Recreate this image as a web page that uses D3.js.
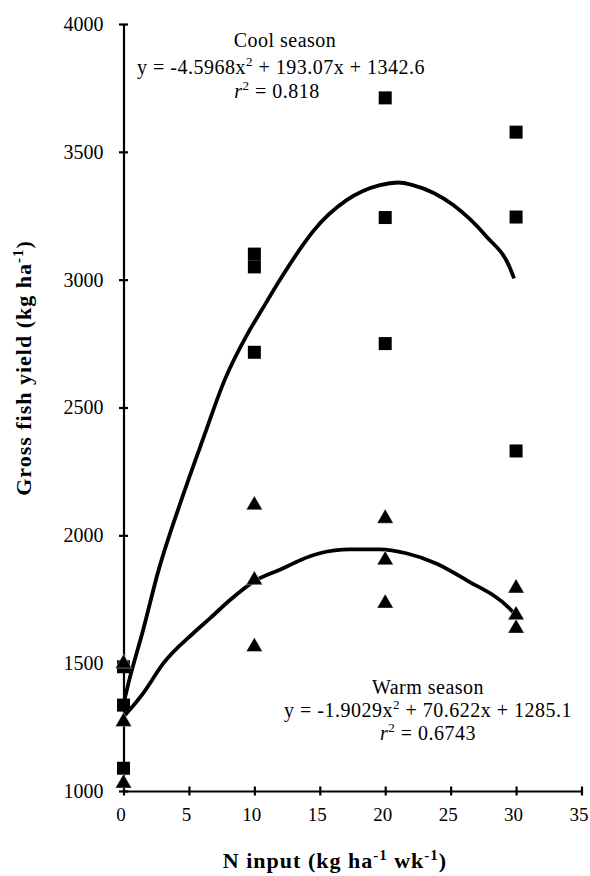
<!DOCTYPE html>
<html>
<head>
<meta charset="utf-8">
<script src="https://cdn.jsdelivr.net/npm/d3@7"></script>
<style>
  body { margin: 0; background: #fff; }
  text, tspan { font-family: "Liberation Serif", serif; }
</style>
</head>
<body>
<svg id="chart" width="590" height="876"></svg>
<script>
// observed yields at each N input (three ponds per level)
const nInput = [0, 0, 0, 10, 10, 10, 20, 20, 20, 30, 30, 30];
const coolYield = [1486, 1336, 1089, 3100, 3050, 2716, 3711, 3243, 2750, 3577, 3245, 2330];
const warmYield = [1499, 1271, 1030, 2118, 1825, 1564, 2066, 1903, 1734, 1793, 1688, 1636];

// trend lines
const coolTrend = [[0, 1340], [0.37, 1420], [1.5, 1630], [2.66, 1860], [4.57, 2160], [6.1, 2380],
  [7.75, 2610], [9.5, 2790], [10.56, 2881], [12.1, 3011], [13.7, 3135], [14.5, 3190], [17.05, 3311],
  [19.6, 3370], [21, 3380], [22.1, 3370], [25.2, 3292], [27.75, 3168], [29.5, 3050], [29.85, 3005]];
const warmTrend = [[0, 1290], [1.5, 1382], [3.04, 1499], [5.33, 1617], [6.6, 1675], [8.14, 1747],
  [9.92, 1818], [12.2, 1871], [13.5, 1903], [15, 1930], [17.3, 1945], [19.6, 1945], [21.6, 1930],
  [23.9, 1890], [26.2, 1825], [29.5, 1714], [29.85, 1695]];

const xTicks = [0, 5, 10, 15, 20, 25, 30, 35];
const yTicks = [1000, 1500, 2000, 2500, 3000, 3500, 4000];

const svg = d3.select('#chart');

const x = d3.scaleLinear().domain([0, 35]).range([123.5, 581.5]);
const y = d3.scaleLinear().domain([1000, 4000]).range([791, 24]);

const font_size = 20;

// axes
const xAxis = d3.axisBottom(x).tickValues(xTicks).tickFormat(d3.format('d')).tickSize(0).tickPadding(0);
const gx = svg.append('g').attr('transform', 'translate(0,791)').call(xAxis)
  .attr('font-family', null).attr('font-size', null);
gx.select('.domain').attr('stroke', '#000').attr('stroke-width', 2.2);
gx.selectAll('.tick line').remove();
gx.selectAll('.tick').append('line').attr('y1', -4.5).attr('y2', 4.5)
  .attr('stroke', '#000').attr('stroke-width', 2.2);
gx.selectAll('.tick text').attr('x', -3).attr('y', 30).attr('dy', 0).attr('fill', '#000')
  .style('font-size', '19px');

const yAxis = d3.axisLeft(y).tickValues(yTicks).tickFormat(d3.format('d')).tickSize(0).tickPadding(0);
const gy = svg.append('g').attr('transform', 'translate(123.5,0)').call(yAxis)
  .attr('font-family', null).attr('font-size', null);
gy.select('.domain').attr('stroke', '#000').attr('stroke-width', 2.2);
gy.selectAll('.tick line').remove();
gy.selectAll('.tick').append('line').attr('x1', -4.5).attr('x2', 4.5)
  .attr('stroke', '#000').attr('stroke-width', 2.2);
gy.selectAll('.tick text').attr('x', -20).attr('dy', '0.32em').attr('fill', '#000')
  .style('font-size', font_size + 'px');

// trend lines
const line = d3.line().x(d => x(d[0])).y(d => y(d[1])).curve(d3.curveMonotoneX);
[coolTrend, warmTrend].forEach(tr => {
  svg.append('path').attr('d', line(tr)).attr('fill', 'none')
    .attr('stroke', '#000').attr('stroke-width', 3.8).attr('stroke-linejoin', 'round');
});

// cool season squares
const sq = 13;
svg.append('g').selectAll('rect').data(nInput).join('rect')
  .attr('x', d => x(d) - sq / 2).attr('y', (d, i) => y(coolYield[i]) - sq / 2)
  .attr('width', sq).attr('height', sq).attr('fill', '#000');

// warm season triangles
const tri = d3.symbol().type(d3.symbolTriangle).size(115);
svg.append('g').selectAll('path').data(nInput).join('path')
  .attr('transform', (d, i) => `translate(${x(d)},${y(warmYield[i])})`)
  .attr('d', tri()).attr('fill', '#000').attr('stroke', '#fff').attr('stroke-width', 0.4);

// text with superscripts
function rich(parts, size, supSize, attrs) {
  const t = svg.append('text').attr('text-anchor', 'middle').attr('fill', '#000')
    .style('font-size', size + 'px');
  Object.entries(attrs).forEach(([k, v]) => t.attr(k, v));
  let back = 0;
  parts.forEach(p => {
    const s = t.append('tspan').text(p.t);
    if (p.sup) {
      s.attr('dy', -8 + back).style('font-size', supSize + 'px');
      back = 8;
    } else {
      if (back) s.attr('dy', back);
      back = 0;
      if (p.i) s.style('font-style', 'italic');
    }
  });
  return t;
}

const ann = {'letter-spacing': 0.5};
rich([{t: 'Cool season'}], font_size, 13, {x: 285, y: 47, ...ann});
rich([{t: 'y = -4.5968x'}, {t: '2', sup: true}, {t: ' + 193.07x + 1342.6'}], font_size, 13, {x: 281, y: 74, ...ann});
rich([{t: 'r', i: true}, {t: '2', sup: true}, {t: ' = 0.818'}], font_size, 13, {x: 277, y: 98, ...ann});

rich([{t: 'Warm season'}], font_size, 13, {x: 428, y: 694, ...ann});
rich([{t: 'y = -1.9029x'}, {t: '2', sup: true}, {t: ' + 70.622x + 1285.1'}], font_size, 13, {x: 428, y: 717, ...ann});
rich([{t: 'r', i: true}, {t: '2', sup: true}, {t: ' = 0.6743'}], font_size, 13, {x: 428, y: 740, ...ann});

// axis titles
rich([{t: 'N input (kg ha'}, {t: '-1', sup: true}, {t: ' wk'}, {t: '-1', sup: true}, {t: ')'}],
  22, 15, {x: 335, y: 868, 'font-weight': 'bold', 'letter-spacing': 1});
rich([{t: 'Gross fish yield (kg ha'}, {t: '-1', sup: true}, {t: ')'}],
  22, 15, {transform: 'translate(31,368) rotate(-90)', 'font-weight': 'bold', 'letter-spacing': 1});
</script>
</body>
</html>
